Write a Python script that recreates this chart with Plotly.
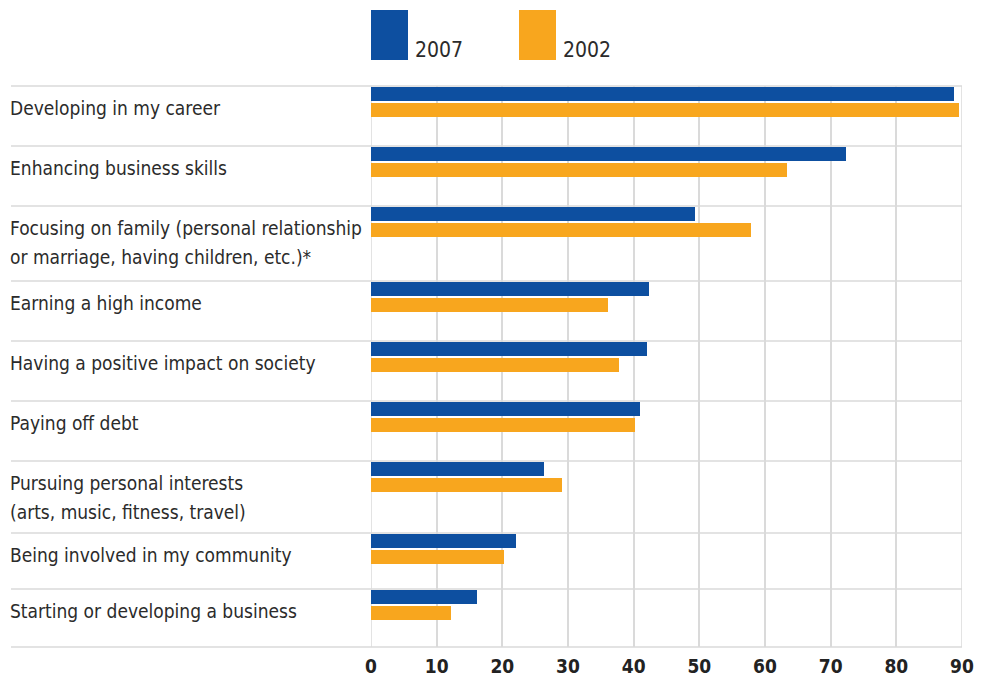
import plotly.graph_objects as go

# ---- data ----
categories = [
    "Developing in my career",
    "Enhancing business skills",
    "Focusing on family (personal relationship<br>or marriage, having children, etc.)*",
    "Earning a high income",
    "Having a positive impact on society",
    "Paying off debt",
    "Pursuing personal interests<br>(arts, music, fitness, travel)",
    "Being involved in my community",
    "Starting or developing a business",
]
values_2007 = [88.8, 72.4, 49.4, 42.3, 42.0, 40.9, 26.3, 22.1, 16.1]
values_2002 = [89.5, 63.3, 57.8, 36.1, 37.7, 40.2, 29.1, 20.2, 12.2]
series_names = ["2007", "2002"]
x_ticks = [0, 10, 20, 30, 40, 50, 60, 70, 80, 90]

# ---- layout constants (pixel-based) ----
W, H = 982, 678
PL, PR, PT, PB = 371, 962, 86, 647          # plot area in pixels
row_bounds = [86, 146, 206, 281, 341, 401, 461, 533, 589, 647]
BLUE = "#0D4FA0"
ORANGE = "#F8A61E"
GRID = "#DADADA"
TEXT = "#2B2B2B"
FONT = "DejaVu Sans Condensed, DejaVu Sans, sans-serif"


def px_x(px):
    return (px - PL) / (PR - PL)


def px_y(py):
    return (PB - py) / (PB - PT)


row_tops = row_bounds[:-1]
y_2007 = [t + 8 for t in row_tops]
y_2002 = [t + 24 for t in row_tops]

fig = go.Figure()
fig.add_trace(go.Bar(orientation="h", x=values_2007, y=y_2007, width=14,
                     marker=dict(color=BLUE, line=dict(width=0)),
                     name=series_names[0], hoverinfo="x+name"))
fig.add_trace(go.Bar(orientation="h", x=values_2002, y=y_2002, width=14,
                     marker=dict(color=ORANGE, line=dict(width=0)),
                     name=series_names[1], hoverinfo="x+name"))

shapes = []
# horizontal row separators
for yb in row_bounds:
    shapes.append(dict(type="line", xref="paper", yref="paper",
                       x0=px_x(11), x1=1, y0=px_y(yb), y1=px_y(yb),
                       line=dict(color=GRID, width=1.5), layer="below"))
# left/right frame lines of plot area
for xv in (x_ticks[0], x_ticks[-1]):
    shapes.append(dict(type="line", xref="x", yref="paper",
                       x0=xv, x1=xv, y0=0, y1=1,
                       line=dict(color=GRID, width=1.5), layer="below"))
# legend swatches
legend_x = [371, 519]
for lx, col in zip(legend_x, [BLUE, ORANGE]):
    shapes.append(dict(type="rect", xref="paper", yref="paper",
                       x0=px_x(lx), x1=px_x(lx + 37), y0=px_y(60), y1=px_y(10),
                       fillcolor=col, line=dict(width=0)))

annotations = []
for lx, name in zip(legend_x, series_names):
    annotations.append(dict(xref="paper", yref="paper", x=px_x(lx + 42), y=px_y(50),
                            xanchor="left", yanchor="middle", showarrow=False,
                            text=name, font=dict(family=FONT, size=21, color=TEXT)))

# category labels, one annotation per text line (29 px line spacing)
for cat, top in zip(categories, row_tops):
    for i, line in enumerate(cat.split("<br>")):
        annotations.append(dict(xref="paper", yref="y", x=px_x(8), y=top + 22 + 29 * i,
                                xanchor="left", yanchor="middle", align="left",
                                showarrow=False, text=line,
                                font=dict(family=FONT, size=19, color=TEXT)))

fig.update_layout(
    template="none",
    width=W, height=H,
    margin=dict(l=PL, r=W - PR, t=PT, b=H - PB, pad=0, autoexpand=False),
    paper_bgcolor="white", plot_bgcolor="white",
    showlegend=False, barmode="overlay", bargap=0,
    shapes=shapes, annotations=annotations,
    xaxis=dict(range=[x_ticks[0], x_ticks[-1]], tickvals=x_ticks, automargin=False,
               showgrid=True, gridcolor=GRID, gridwidth=1.5,
               zeroline=False, showline=False, ticks="",
               tickfont=dict(family=FONT, size=19, color="#222222", weight="bold"),
               ticklabelstandoff=6, fixedrange=True),
    yaxis=dict(range=[PB, PT], automargin=False, showgrid=False, zeroline=False,
               showline=False, showticklabels=False, ticks="", fixedrange=True),
    font=dict(family=FONT, color=TEXT),
)

fig.write_html("out.html", config={"displayModeBar": False},
               post_script="document.body.style.margin='0';document.body.style.overflow='hidden';")
